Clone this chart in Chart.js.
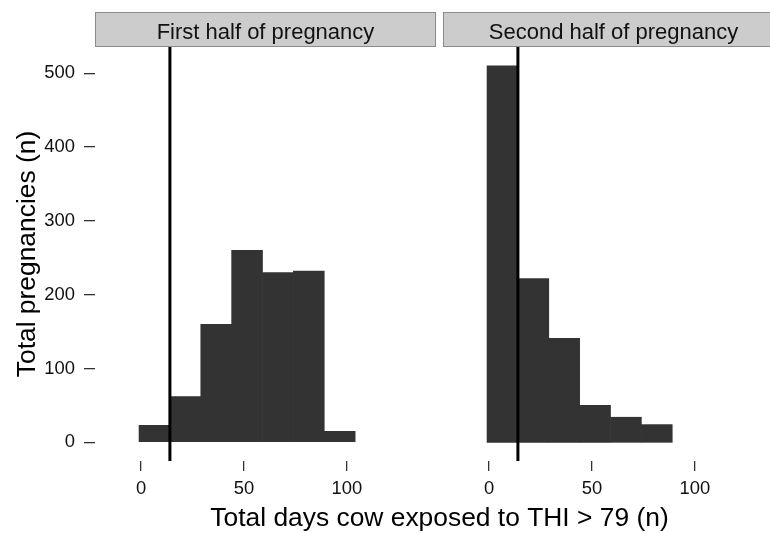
<!DOCTYPE html>
<html>
<head>
<meta charset="utf-8">
<script src="https://cdn.jsdelivr.net/npm/chart.js@4.4.0/dist/chart.umd.min.js"></script>
<style>
html,body{margin:0;padding:0;background:#fff;}
#wrap{position:relative;width:770px;height:533px;overflow:hidden;background:#fff;}
#wrap canvas{position:absolute;top:0;}
</style>
</head>
<body>
<div id="wrap">
	<canvas id="left" width="770" height="533" style="left:0;width:770px;height:533px"></canvas>
	<canvas id="right" width="360" height="533" style="left:436px;width:360px;height:533px"></canvas>
</div>
<script>
// dati (istogramma, bin di 15 giorni)
const panelTitles = ['First half of pregnancy', 'Second half of pregnancy'];
const binCentres1 = [6.5, 21.5, 36.5, 51.5, 66.5, 81.5, 96.5];
const counts1 = [23, 62, 160, 260, 230, 232, 15];
const binCentres2 = [6.5, 21.5, 36.5, 51.5, 66.5, 81.5];
const counts2 = [510, 222, 141, 50, 34, 24];
const cutoffDays = 14;
const xTicks = [0, 50, 100];
const yTicks = [0, 100, 200, 300, 400, 500];
const xTitle = 'Total days cow exposed to THI > 79 (n)';
const yTitle = 'Total pregnancies (n)';

(function(){
	const FONT = '"Liberation Sans", Arial, sans-serif';
	Chart.defaults.font.family = FONT;
	Chart.defaults.color = '#111';

	// striscia grigia sopra il pannello + linea verticale
	const panelDeco = {
		id: 'panelDeco',
		afterDatasetsDraw(chart, args, opts){
			const ctx = chart.ctx;
			const a = chart.chartArea;
			const xs = chart.scales.x;
			const px = xs.getPixelForValue(opts.vline);
			ctx.save();
			ctx.strokeStyle = '#000';
			ctx.lineWidth = 3;
			ctx.beginPath();
			ctx.moveTo(px, a.top);
			ctx.lineTo(px, a.bottom);
			ctx.stroke();
			ctx.restore();
		},
		afterDraw(chart, args, opts){
			const ctx = chart.ctx;
			const a = chart.chartArea;
			ctx.save();
			ctx.fillStyle = '#cccccc';
			ctx.fillRect(a.left, 12, a.right - a.left, a.top - 12);
			ctx.strokeStyle = '#8a8a8a';
			ctx.lineWidth = 1;
			ctx.strokeRect(a.left + 0.5, 12.5, a.right - a.left - 1, a.top - 13);
			ctx.fillStyle = '#111';
			ctx.font = '22px ' + FONT;
			ctx.textAlign = 'center';
			ctx.textBaseline = 'alphabetic';
			ctx.fillText(opts.strip, (a.left + a.right) / 2, 38.5);
			if(opts.xTitle){
				ctx.fillStyle = '#000';
				ctx.font = '26.4px ' + FONT;
				ctx.fillText(opts.xTitle, opts.xTitleCentre, 526);
			}
			ctx.restore();
		}
	};

	function makeChart(id, centres, counts, strip, isLeft){
		const canvas = document.getElementById(id);
		const ctx = canvas.getContext('2d');
		const data = {
			datasets: [{
				data: centres.map((c, i) => ({x: c, y: counts[i]})),
				backgroundColor: '#333333',
				borderWidth: 0,
				barPercentage: 1,
				categoryPercentage: 1
			}]
		};
		const config = {
			type: 'bar',
			data: data,
			plugins: [panelDeco],
			options: {
				responsive: false,
				animation: false,
				layout: {
					padding: isLeft ? {left: 0, top: 47, right: 334, bottom: 0} : {left: 7, top: 47, right: 12, bottom: 0}
				},
				scales: {
					x: {
						type: 'linear',
						min: -22.4,
						max: 143.3,
						offset: false,
						afterBuildTicks: s => { s.ticks = xTicks.map(v => ({value: v})); },
						afterFit: s => { s.height = 72; },
						ticks: { autoSkip: false, maxRotation: 0, padding: 7, font: {size: 18.4}, color: '#111' },
						grid: { display: true, drawOnChartArea: false, drawTicks: true, tickLength: 10, color: '#333', lineWidth: 1.3, offset: false },
						border: { display: false },
						title: { display: false }
					},
					y: {
						type: 'linear',
						display: isLeft,
						min: -25.3,
						max: 535.6,
						afterBuildTicks: s => { s.ticks = yTicks.map(v => ({value: v})); },
						afterFit: s => { s.width = isLeft ? 95 : 0; },
						ticks: { padding: 9, font: {size: 18.4}, color: '#111' },
						grid: { display: true, drawOnChartArea: false, drawTicks: true, tickLength: 11, color: '#333', lineWidth: 1.3 },
						border: { display: false },
						title: { display: true, text: yTitle, color: '#000', font: {size: 26.4}, padding: {top: 12, bottom: 0} }
					}
				},
				plugins: {
					legend: { display: false },
					tooltip: { enabled: false },
					panelDeco: {
						strip: strip,
						vline: cutoffDays,
						xTitle: isLeft ? xTitle : null,
						xTitleCentre: 439.5
					}
				}
			}
		};
		return new Chart(ctx, config);
	}

	function start(){
		makeChart('left', binCentres1, counts1, panelTitles[0], true);
		makeChart('right', binCentres2, counts2, panelTitles[1], false);
	}

	if(document.readyState === 'loading') document.addEventListener('DOMContentLoaded', start);
	else start();
})();
</script>
</body>
</html>
